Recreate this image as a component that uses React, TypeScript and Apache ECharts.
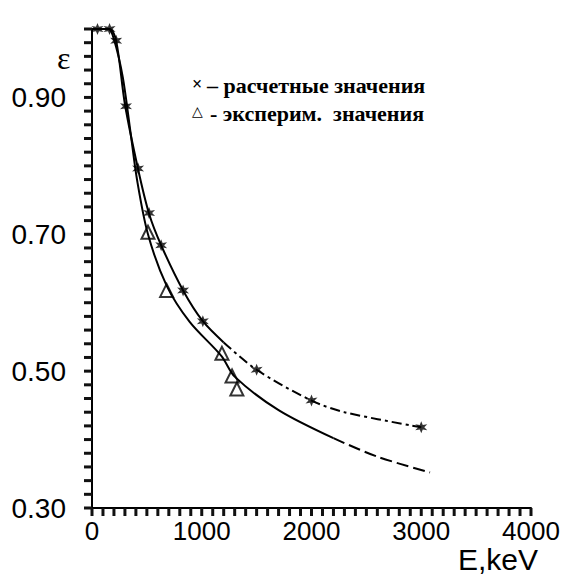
import React, { useEffect, useRef } from "react";
import * as echarts from "echarts";

// Calculated values (× markers)
const calcE = [50, 160, 220, 310, 420, 520, 630, 830, 1010, 1500, 2000, 3000];
const calcEps = [1.0, 1.0, 0.983, 0.887, 0.796, 0.731, 0.684, 0.618, 0.573, 0.502, 0.457, 0.418];

// Experimental values (△ markers)
const expE = [510, 680, 1184, 1276, 1320];
const expEps = [0.703, 0.618, 0.526, 0.493, 0.474];

// Fit curve through calculated values (solid part, then dash-dot part)
const calcCurveSolidE = [0, 160, 220, 300, 420, 520, 630, 830, 1010, 1200];
const calcCurveSolidEps = [1.0, 1.0, 0.983, 0.89, 0.795, 0.73, 0.684, 0.618, 0.573, 0.542];
const calcCurveDashE = [1200, 1500, 2000, 2300, 3000];
const calcCurveDashEps = [0.542, 0.502, 0.457, 0.44, 0.418];

// Fit curve through experimental values (solid part, then dashed part)
const expCurveSolidE = [0, 150, 200, 280, 350, 410, 510, 680, 890, 1180, 1300, 1700, 2200];
const expCurveSolidEps = [1.0, 1.0, 0.985, 0.93, 0.85, 0.78, 0.70, 0.625, 0.572, 0.522, 0.492, 0.443, 0.402];
const expCurveDashE = [2200, 2600, 3080];
const expCurveDashEps = [0.402, 0.375, 0.352];

const yAxisRange = { min: 0.3, max: 1.0, major: 0.2, minor: 0.02 };
const xAxisRange = { min: 0, max: 4000, major: 1000, minor: 100 };

const legendMarks = ["×", "△"];
const legendTexts = ["– расчетные значения", "- эксперим.  значения"];

const zip = (a: number[], b: number[]) => a.map((v, i) => [v, b[i]]);

const tickValues = (min: number, max: number, step: number) => {
  const out: number[] = [];
  const n = Math.round((max - min) / step);
  for (let i = 0; i <= n; i++) out.push(+(min + i * step).toFixed(6));
  return out;
};

const starPath =
  "path://M0,-10 L2.2,-3.8 L8.7,-5 L4.4,0 L8.7,5 L2.2,3.8 L0,10 L-2.2,3.8 L-8.7,5 L-4.4,0 L-8.7,-5 L-2.2,-3.8 Z";

export default function App() {
  const ref = useRef<HTMLDivElement>(null);
  useEffect(() => {
    document.body.style.margin = "0";
    const chart = echarts.init(ref.current!, null, { renderer: "svg" });
    const yTicks = tickValues(yAxisRange.min, yAxisRange.max, yAxisRange.minor);
    const xTicks = tickValues(xAxisRange.min, xAxisRange.max, xAxisRange.minor);
    const TL = 8;
    const TW = 3;
    const anchor = [
      (xAxisRange.min + xAxisRange.max) / 2,
      (yAxisRange.min + yAxisRange.max) / 2,
    ];
    chart.setOption({
      animation: false,
      backgroundColor: "#fff",
      grid: { left: 92, right: 37, top: 29, bottom: 69 },
      xAxis: {
        type: "value",
        min: xAxisRange.min,
        max: xAxisRange.max,
        interval: xAxisRange.major,
        axisLine: { show: true, onZero: false, lineStyle: { color: "#000", width: 2 } },
        axisTick: { show: false },
        axisLabel: {
          fontFamily: "Liberation Sans",
          fontSize: 26,
          color: "#000",
          margin: 10,
          formatter: (v: number) => String(Math.round(v)),
        },
        splitLine: { show: false },
      },
      yAxis: {
        type: "value",
        min: yAxisRange.min,
        max: yAxisRange.max,
        interval: yAxisRange.major,
        axisLine: { show: true, onZero: false, lineStyle: { color: "#000", width: 2 } },
        axisTick: { show: false },
        axisLabel: {
          fontFamily: "Liberation Sans",
          fontSize: 28,
          color: "#000",
          margin: 26,
          showMaxLabel: false,
          formatter: (v: number) => (v < 0.99 ? v.toFixed(2) : ""),
        },
        splitLine: { show: false },
      },
      series: [
        {
          // axis ticks (every 0.02 on ε, every 100 keV on E), placed via the axes' own scales
          type: "custom",
          clip: false,
          data: [anchor],
          renderItem: (_p: any, api: any) => ({
            type: "group",
            children: [
              ...yTicks.map((v) => {
                const pt = api.coord([xAxisRange.min, v]);
                return {
                  type: "rect",
                  shape: { x: pt[0] - TL, y: pt[1] - TW / 2, width: TL, height: TW },
                  style: { fill: "#111" },
                };
              }),
              ...xTicks.map((v) => {
                const pt = api.coord([v, yAxisRange.min]);
                return {
                  type: "rect",
                  shape: { x: pt[0] - TW / 2, y: pt[1], width: TW, height: TL },
                  style: { fill: "#111" },
                };
              }),
            ],
          }),
        },
        {
          type: "line",
          data: zip(calcCurveSolidE, calcCurveSolidEps),
          smooth: 0.3,
          showSymbol: false,
          lineStyle: { color: "#000", width: 2 },
        },
        {
          type: "line",
          data: zip(calcCurveDashE, calcCurveDashEps),
          smooth: 0.3,
          showSymbol: false,
          lineStyle: { color: "#000", width: 2, type: [10, 4, 3, 4] },
        },
        {
          type: "line",
          data: zip(expCurveSolidE, expCurveSolidEps),
          smooth: 0.3,
          showSymbol: false,
          lineStyle: { color: "#000", width: 2 },
        },
        {
          type: "line",
          data: zip(expCurveDashE, expCurveDashEps),
          smooth: 0.3,
          showSymbol: false,
          lineStyle: { color: "#000", width: 2, type: [12, 5] },
        },
        {
          type: "scatter",
          data: zip(calcE, calcEps),
          symbol: starPath,
          symbolSize: 12,
          itemStyle: { color: "#000" },
        },
        {
          type: "scatter",
          data: zip(expE, expEps),
          symbol: "triangle",
          symbolSize: 13,
          itemStyle: { color: "rgba(255,255,255,0)", borderColor: "#000", borderWidth: 2 },
        },
      ],
      graphic: [
        {
          type: "text",
          left: 57,
          top: 42,
          style: { text: "ε", font: "32px 'Liberation Serif'", fill: "#000" },
        },
        {
          type: "text",
          left: 458,
          top: 544,
          style: { text: "E,keV", font: "30px 'Liberation Sans'", fill: "#000" },
        },
        {
          type: "text",
          left: 192,
          top: 75,
          style: { text: legendMarks[0], font: "bold 18px 'Liberation Serif'", fill: "#000" },
        },
        {
          type: "text",
          left: 207,
          top: 74,
          style: { text: legendTexts[0], font: "bold 22px 'Liberation Serif'", fill: "#000" },
        },
        {
          type: "text",
          left: 192,
          top: 104,
          style: { text: legendMarks[1], font: "14px 'DejaVu Sans'", fill: "#000" },
        },
        {
          type: "text",
          left: 210,
          top: 102,
          style: { text: legendTexts[1], font: "bold 22px 'Liberation Serif'", fill: "#000" },
        },
      ],
    });
    return () => chart.dispose();
  }, []);
  return <div ref={ref} style={{ width: 568, height: 577 }} />;
}
